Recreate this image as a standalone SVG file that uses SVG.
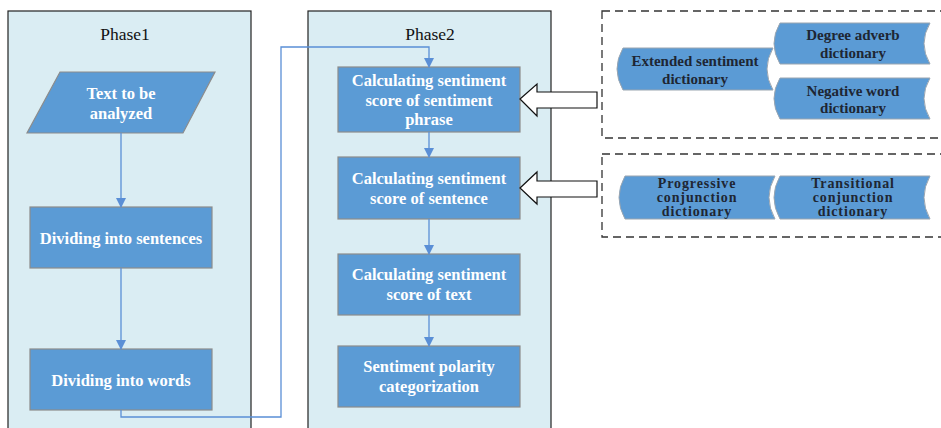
<svg xmlns="http://www.w3.org/2000/svg" width="941" height="428" viewBox="0 0 941 428">
<defs>
<marker id="ah" markerWidth="10" markerHeight="10" refX="9" refY="5" orient="auto" markerUnits="userSpaceOnUse">
<path d="M0,0 L10,5 L0,10 Z" fill="#5A8FD6"/>
</marker>
<style>
.phase{fill:#DAEDF3;stroke:#222;stroke-width:1.2}
.ptitle{font-family:"Liberation Serif",serif;font-size:17.5px;fill:#111;text-anchor:middle}
.box{fill:#5B9BD5;stroke:#8C8C8C;stroke-width:1.2}
.bt{font-family:"Liberation Serif",serif;font-size:16.5px;font-weight:bold;fill:#fff;text-anchor:middle}
.dict{fill:#5B9BD5;stroke:#9AA5B0;stroke-width:1}
.dt{font-family:"Liberation Serif",serif;font-size:15px;font-weight:bold;fill:#1E2633;text-anchor:middle}
.dt2{font-family:"Liberation Serif",serif;font-size:14px;font-weight:bold;fill:#1E2633;text-anchor:middle;letter-spacing:0.9px}
.dash{fill:none;stroke:#333;stroke-width:1.3;stroke-dasharray:8,5}
.conn{fill:none;stroke:#5A8FD6;stroke-width:1.3}
.blk{fill:#fff;stroke:#111;stroke-width:1.2}
</style>
</defs>
<rect width="941" height="428" fill="#fff"/>

<g id="phase1">
<rect class="phase" x="8" y="11" width="243" height="430"/>
<text class="ptitle" x="125" y="40">Phase1</text>
</g>
<g id="phase2">
<rect class="phase" x="308" y="11" width="243" height="430"/>
<text class="ptitle" x="430" y="40">Phase2</text>
</g>

<g id="group1">
<rect class="dash" x="602" y="11" width="345" height="127"/>
</g>
<g id="group2">
<rect class="dash" x="602" y="154" width="345" height="83"/>
</g>

<g id="text-input">
<polygon class="box" points="60,72 215,72 183,133 27,133"/>
<text class="bt" x="121" y="99">Text to be</text>
<text class="bt" x="121" y="119">analyzed</text>
</g>
<g id="sentences">
<rect class="box" x="30" y="207" width="182" height="61"/>
<text class="bt" x="121" y="244">Dividing into sentences</text>
</g>
<g id="words">
<rect class="box" x="30" y="349" width="182" height="61"/>
<text class="bt" x="121" y="386">Dividing into words</text>
</g>

<g id="phrase-score">
<rect class="box" x="338" y="67" width="182" height="65"/>
<text class="bt" x="429" y="86">Calculating sentiment</text>
<text class="bt" x="429" y="106">score of sentiment</text>
<text class="bt" x="429" y="125">phrase</text>
</g>
<g id="sentence-score">
<rect class="box" x="338" y="157" width="182" height="62"/>
<text class="bt" x="429" y="184">Calculating sentiment</text>
<text class="bt" x="429" y="204">score of sentence</text>
</g>
<g id="text-score">
<rect class="box" x="338" y="254" width="182" height="61"/>
<text class="bt" x="429" y="280">Calculating sentiment</text>
<text class="bt" x="429" y="300">score of text</text>
</g>
<g id="polarity">
<rect class="box" x="338" y="346" width="182" height="61"/>
<text class="bt" x="429" y="372">Sentiment polarity</text>
<text class="bt" x="429" y="392">categorization</text>
</g>

<g id="extended">
<path class="dict" d="M623,48 L773,48 Q761,69 773,90 L623,90 Q611,69 623,48 Z"/>
<text class="dt" x="695" y="66">Extended sentiment</text>
<text class="dt" x="695" y="84">dictionary</text>
</g>
<g id="degree">
<path class="dict" d="M780,23 L930,23 Q918,43.5 930,64 L780,64 Q768,43.5 780,23 Z"/>
<text class="dt" x="853" y="40">Degree adverb</text>
<text class="dt" x="853" y="58">dictionary</text>
</g>
<g id="negative">
<path class="dict" d="M780,78 L930,78 Q918,98.5 930,119 L780,119 Q768,98.5 780,78 Z"/>
<text class="dt" x="853" y="96">Negative word</text>
<text class="dt" x="853" y="113">dictionary</text>
</g>
<g id="progressive">
<path class="dict" d="M625,176 L775,176 Q763,197.5 775,219 L625,219 Q613,197.5 625,176 Z"/>
<text class="dt2" x="697" y="188">Progressive</text>
<text class="dt2" x="697" y="202">conjunction</text>
<text class="dt2" x="697" y="216">dictionary</text>
</g>
<g id="transitional">
<path class="dict" d="M780,176 L930,176 Q918,197.5 930,219 L780,219 Q768,197.5 780,176 Z"/>
<text class="dt2" x="853" y="188">Transitional</text>
<text class="dt2" x="853" y="202">conjunction</text>
<text class="dt2" x="853" y="216">dictionary</text>
</g>

<g id="connectors">
<line class="conn" x1="121" y1="133" x2="121" y2="207" marker-end="url(#ah)"/>
<line class="conn" x1="121" y1="268" x2="121" y2="349" marker-end="url(#ah)"/>
<polyline class="conn" points="121,410 121,417 281,417 281,47 429,47 429,67" marker-end="url(#ah)"/>
<line class="conn" x1="429" y1="132" x2="429" y2="157" marker-end="url(#ah)"/>
<line class="conn" x1="429" y1="219" x2="429" y2="254" marker-end="url(#ah)"/>
<line class="conn" x1="429" y1="315" x2="429" y2="346" marker-end="url(#ah)"/>
<polygon class="blk" points="520,99 537,84 537,92 597,92 597,108 537,108 537,116"/>
<polygon class="blk" points="520,188 537,172 537,181 597,181 597,197 537,197 537,204"/>
</g>
</svg>
